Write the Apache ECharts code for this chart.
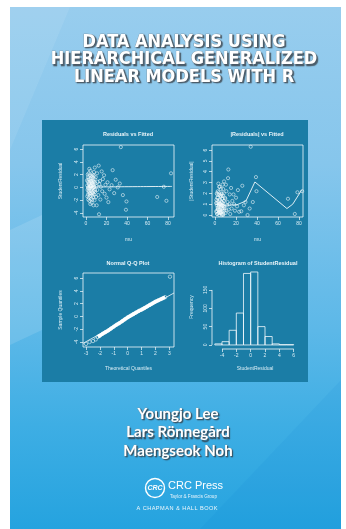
<!DOCTYPE html>
<html><head><meta charset="utf-8">
<script src="https://cdn.jsdelivr.net/npm/echarts@6/dist/echarts.min.js"></script>
<style>html,body{margin:0;padding:0;background:#fff}#c{width:346px;height:529px}</style>
</head><body><div id="c"></div>
<script>
// ---------- text ----------
const titleLines = ['DATA ANALYSIS USING', 'HIERARCHICAL GENERALIZED', 'LINEAR MODELS WITH R'];
const authors = ['Youngjo Lee', 'Lars Rönnegård', 'Maengseok Noh'];
const publisher = 'CRC Press';
const publisherSub = 'Taylor & Francis Group';
const imprint = 'A CHAPMAN & HALL BOOK';
const plotTitles = ['Residuals vs Fitted', '|Residuals| vs Fitted', 'Normal Q-Q Plot', 'Histogram of StudentResidual'];

// ---------- data: fitted (mu) vs studentized residual ----------
const fittedResid = [
  [1.0,1.1],[1.2,0.3],[1.3,-1.4],[1.5,-0.4],[1.7,2.0],[1.8,0.9],[1.9,-0.1],[2.0,-1.1],[2.1,1.6],[2.2,-1.9],
  [2.3,0.1],[2.4,1.3],[2.5,-0.7],[2.6,2.2],[2.7,0.6],[2.8,-1.6],[2.9,-0.5],[3.0,0.5],[3.1,-0.2],[3.2,2.9],
  [3.3,1.2],[3.4,-2.1],[3.5,0.8],[3.6,-1.0],[3.7,-0.9],[3.8,1.9],[3.9,0.2],[4.0,0.0],[4.1,-1.3],[4.2,-2.6],
  [4.3,2.6],[4.4,0.4],[4.5,1.0],[4.6,-0.5],[4.7,1.4],[4.8,0.3],[4.9,-1.8],[5.0,0.2],[5.1,-1.0],[5.2,1.0],
  [5.3,-0.3],[5.4,1.8],[5.5,-2.4],[5.6,0.7],[5.7,-0.2],[5.8,1.7],[5.9,0.9],[6.0,-0.8],[6.1,0.3],[6.2,-1.9],
  [6.3,-1.2],[6.4,0.0],[6.5,2.0],[6.6,0.6],[6.7,1.5],[6.8,-0.1],[6.9,-0.9],[7.0,1.1],[7.1,0.4],[7.2,-1.5],
  [7.3,-2.8],[7.4,0.9],[7.5,1.8],[7.6,-0.6],[7.7,0.0],[7.8,2.4],[7.9,-1.1],[8.0,0.1],[8.2,0.8],[8.3,-2.0],
  [8.5,1.3],[8.6,3.1],[8.8,-0.4],[8.9,-0.7],[9.0,0.6],[9.5,1.6],[9.8,-1.5],[10.2,0.2],[10.4,-2.8],[10.8,2.2],
  [11.0,-0.4],[11.5,0.9],[12.0,-1.2],[12.4,3.4],[12.7,-4.2],[13.0,0.5],[13.7,1.0],[14.0,-1.9],[14.5,0.1],[15.3,2.5],
  [15.8,-0.6],[16.5,1.3],[17.6,1.9],[18.2,-1.0],[19.0,0.4],[20.0,-1.6],[21.0,0.8],[21.8,-2.3],[23.0,-0.3],[25.0,0.35],
  [26.0,2.7],[27.5,-0.9],[29.0,1.2],[31.0,0.0],[33.0,0.6],[34.0,6.3],[36.0,-1.2],[39.0,-3.5],[39.5,-2.2],[69.5,-1.5],
  [76.0,0.1],[78.5,-2.1],[83.0,2.2]
];
const residSmooth = [[1,0.05],[20,0.08],[50,0.12],[84,0.15]];
const absResidSmooth = [[1,1.0],[9.5,0.9],[21,0.95],[29.5,1.3],[38,3.05],[68.5,0.6],[74,1.0],[82.5,2.3]];

// ---------- data: normal Q-Q ----------
const qqPoints = [
  [-3.0,-4.3],[-2.75,-4.0],[-2.5,-3.85],[-2.3,-3.6],[-2.15,-3.2],[-2.0,-3.0],[-1.8,-2.7],[-1.6,-2.45],
  [-1.4,-2.2],[-1.2,-1.9],[-1.0,-1.6],[-0.8,-1.3],[-0.6,-1.05],[-0.4,-0.75],[-0.2,-0.45],[0.0,-0.15],
  [0.2,0.1],[0.4,0.35],[0.6,0.6],[0.8,0.85],[1.0,1.05],[1.2,1.3],[1.4,1.55],[1.6,1.8],[1.8,2.05],
  [2.0,2.3],[2.2,2.5],[2.4,2.7],[2.55,2.85],[2.7,3.0],[3.05,6.2]
];
const qqLine = [[-3.22,-4.21],[3.34,3.66]];

// ---------- data: histogram ----------
const histEdges = [-5,-4,-3,-2,-1,0,1,2,3,4,5,6];
const histCounts = [3,9,40,87,195,199,50,23,3,1,1];

// ---------- ticks ----------
const muTicks = [0,20,40,60,80];
const residTicks = [-4,-2,0,2,4,6];
const absResidTicks = [0,1,2,3,4,5,6];
const qqXTicks = [-3,-2,-1,0,1,2,3];
const histXTicks = [-4,-2,0,2,4,6];
const freqTicks = [0,50,100,150];

// ---------- build ----------
const W = '#f2f9fc';
const LAB = '#d9edf5';
const panelColor = '#1b7da6';
const tickFont = 5;

function axisX(grid, min, max, ticks, name, gap) {
  return {
    type: 'value', gridIndex: grid, min, max,
    name, nameLocation: 'middle', nameGap: gap,
    nameTextStyle: { color: LAB, fontSize: 5, fontFamily: 'Liberation Sans' },
    axisLine: { show: false, onZero: false },
    axisTick: { show: true, inside: false, length: 3, customValues: ticks, lineStyle: { color: W, width: 0.7 } },
    axisLabel: { show: true, customValues: ticks, color: LAB, fontSize: tickFont, margin: 4, fontFamily: 'Liberation Sans' },
    splitLine: { show: false }
  };
}
function axisY(grid, min, max, ticks, name, gap) {
  return {
    type: 'value', gridIndex: grid, min, max,
    name, nameLocation: 'middle', nameGap: gap, nameRotate: 90,
    nameTextStyle: { color: LAB, fontSize: 5, fontFamily: 'Liberation Sans' },
    axisLine: { show: false, onZero: false },
    axisTick: { show: true, inside: false, length: 3, customValues: ticks, lineStyle: { color: W, width: 0.7 } },
    axisLabel: { show: true, customValues: ticks, color: LAB, fontSize: tickFont, margin: 4, rotate: 90, fontFamily: 'Liberation Sans' },
    splitLine: { show: false }
  };
}

const absResid = fittedResid.map(d => [d[0], Math.abs(d[1])]);

const HX = [-5.39, 6.6], HY = [-11, 218];

const ptStyle = { color: 'rgba(0,0,0,0)', borderColor: W, borderWidth: 0.7 };

const texts = [];
titleLines.forEach((t, i) => {
  texts.push({ type: 'text', z: 20, x: 184, y: 42 + i * 17.5,
    style: { text: t, fill: '#ffffff', font: 'bold 18px "Liberation Sans Narrow","DejaVu Sans Condensed","Liberation Sans",sans-serif',
      align: 'center', verticalAlign: 'middle', stroke: '#7d8a93', lineWidth: 0.6,
      textShadowColor: 'rgba(60,70,80,0.85)', textShadowOffsetX: 1.5, textShadowOffsetY: 1.5, textShadowBlur: 1 } });
});
authors.forEach((t, i) => {
  texts.push({ type: 'text', z: 20, x: 178, y: 414 + i * 18.5,
    style: { text: t, fill: '#ffffff', font: 'bold 15px "Lato","Open Sans",sans-serif',
      align: 'center', verticalAlign: 'middle', stroke: '#8a97a0', lineWidth: 0.4,
      textShadowColor: 'rgba(50,60,70,0.8)', textShadowOffsetX: 1.2, textShadowOffsetY: 1.2, textShadowBlur: 1 } });
});
const plotTitlePos = [[128,134],[257,134],[128,263],[258,263]];
plotTitles.forEach((t, i) => {
  texts.push({ type: 'text', z: 20, x: plotTitlePos[i][0], y: plotTitlePos[i][1],
    style: { text: t, fill: '#eaf5fa', font: 'bold 5.5px "Liberation Sans",sans-serif', align: 'center', verticalAlign: 'middle' } });
});

const option = {
  animation: false,
  backgroundColor: '#ffffff',
  graphic: [
    { type: 'rect', z: -10, shape: { x: 10, y: 7, width: 331, height: 522 },
      style: { fill: { type: 'linear', x: 0, y: 0, x2: 0, y2: 1, colorStops: [
        { offset: 0, color: '#98cdee' }, { offset: 0.3, color: '#86c6ec' }, { offset: 0.62, color: '#5cb8e8' },
        { offset: 0.8, color: '#3eaee4' }, { offset: 1, color: '#25a3df' }] } } },
    { type: 'polygon', z: -9, shape: { points: [[10,7],[70,7],[10,150]] }, style: { fill: 'rgba(255,255,255,0.08)' } },
    { type: 'polygon', z: -9, shape: { points: [[10,230],[42,215],[42,330],[10,345]] }, style: { fill: 'rgba(255,255,255,0.12)' } },
    { type: 'polygon', z: -9, shape: { points: [[200,529],[341,380],[341,529]] }, style: { fill: 'rgba(0,120,200,0.08)' } },
    { type: 'rect', z: -8, shape: { x: 42, y: 120, width: 266, height: 262 }, style: { fill: panelColor } },
    // CRC logo
    { type: 'circle', z: 20, shape: { cx: 155, cy: 488, r: 9.5 }, style: { fill: 'rgba(0,0,0,0)', stroke: '#ffffff', lineWidth: 1.4 } },
    { type: 'text', z: 20, x: 155, y: 488, style: { text: 'CRC', fill: '#ffffff', font: 'italic bold 7px "Liberation Sans",sans-serif', align: 'center', verticalAlign: 'middle' } },
    { type: 'text', z: 20, x: 168, y: 486, style: { text: publisher, fill: '#ffffff', font: '11px "Liberation Sans",sans-serif', align: 'left', verticalAlign: 'middle' } },
    { type: 'text', z: 20, x: 170, y: 497, style: { text: publisherSub, fill: '#e8f4fb', font: '4.6px "Liberation Sans",sans-serif', align: 'left', verticalAlign: 'middle' } },
    { type: 'text', z: 20, x: 177, y: 508, style: { text: imprint.split('').join('\u200A'), fill: '#eef7fc', font: '5.6px "Liberation Sans",sans-serif', align: 'center', verticalAlign: 'middle' } },
    ...texts
  ],
  grid: [
    { left: 83, top: 145, width: 91, height: 72, show: true, borderColor: W, borderWidth: 0.8, backgroundColor: 'transparent' },
    { left: 212, top: 145, width: 91, height: 72, show: true, borderColor: W, borderWidth: 0.8, backgroundColor: 'transparent' },
    { left: 83, top: 273, width: 91, height: 74, show: true, borderColor: W, borderWidth: 0.8, backgroundColor: 'transparent' },
    { left: 212, top: 265, width: 86, height: 84, show: false }
  ],
  xAxis: [
    axisX(0, -2.93, 85.9, muTicks, 'mu', 20),
    axisX(1, -2.86, 83.8, muTicks, 'mu', 20),
    axisX(2, -3.22, 3.34, qqXTicks, 'Theoretical Quantiles', 19),
    axisX(3, HX[0], HX[1], histXTicks, 'StudentResidual', 17)
  ],
  yAxis: [
    axisY(0, -4.63, 6.63, residTicks, 'StudentResidual', 20),
    axisY(1, -0.18, 6.46, absResidTicks, '|StudentResidual|', 18),
    axisY(2, -4.78, 6.78, residTicks, 'Sample Quantiles', 20),
    axisY(3, HY[0], HY[1], freqTicks, 'Frequency', 18)
  ],
  series: [
    { type: 'scatter', xAxisIndex: 0, yAxisIndex: 0, data: fittedResid, symbol: 'circle', symbolSize: 3.2, itemStyle: ptStyle },
    { type: 'line', xAxisIndex: 0, yAxisIndex: 0, data: residSmooth, showSymbol: false, smooth: true, lineStyle: { color: W, width: 0.9 } },
    { type: 'scatter', xAxisIndex: 1, yAxisIndex: 1, data: absResid, symbol: 'circle', symbolSize: 3.2, itemStyle: ptStyle },
    { type: 'line', xAxisIndex: 1, yAxisIndex: 1, data: absResidSmooth, showSymbol: false, lineStyle: { color: W, width: 0.9 } },
    { type: 'line', xAxisIndex: 2, yAxisIndex: 2, data: qqLine, showSymbol: false, lineStyle: { color: W, width: 0.8 } },
    { type: 'line', xAxisIndex: 2, yAxisIndex: 2, data: qqPoints.slice(4, 30), showSymbol: false, lineStyle: { color: '#ffffff', width: 3.6 } },
    { type: 'scatter', xAxisIndex: 2, yAxisIndex: 2, data: qqPoints, symbol: 'circle', symbolSize: 3.4, itemStyle: ptStyle },
    { type: 'custom', xAxisIndex: 3, yAxisIndex: 3,
      data: histCounts.map((c, i) => [histEdges[i], histEdges[i + 1], c]),
      renderItem: function (params, api) {
        const p0 = api.coord([api.value(0), 0]);
        const p1 = api.coord([api.value(1), api.value(2)]);
        return { type: 'rect', shape: { x: p0[0], y: p1[1], width: p1[0] - p0[0], height: p0[1] - p1[1] },
          style: { fill: 'rgba(0,0,0,0)', stroke: W, lineWidth: 0.8 } };
      } },
    { type: 'line', xAxisIndex: 3, yAxisIndex: 3, data: [[histXTicks[0], HY[0]], [histXTicks[histXTicks.length - 1], HY[0]]], showSymbol: false, clip: false, lineStyle: { color: W, width: 0.8 } },
    { type: 'line', xAxisIndex: 3, yAxisIndex: 3, data: [[HX[0], freqTicks[0]], [HX[0], freqTicks[freqTicks.length - 1]]], showSymbol: false, clip: false, lineStyle: { color: W, width: 0.8 } }
  ]
};
const chart = echarts.init(document.getElementById('c'), null, { renderer: 'canvas' });
chart.setOption(option);
</script>
</body></html>
